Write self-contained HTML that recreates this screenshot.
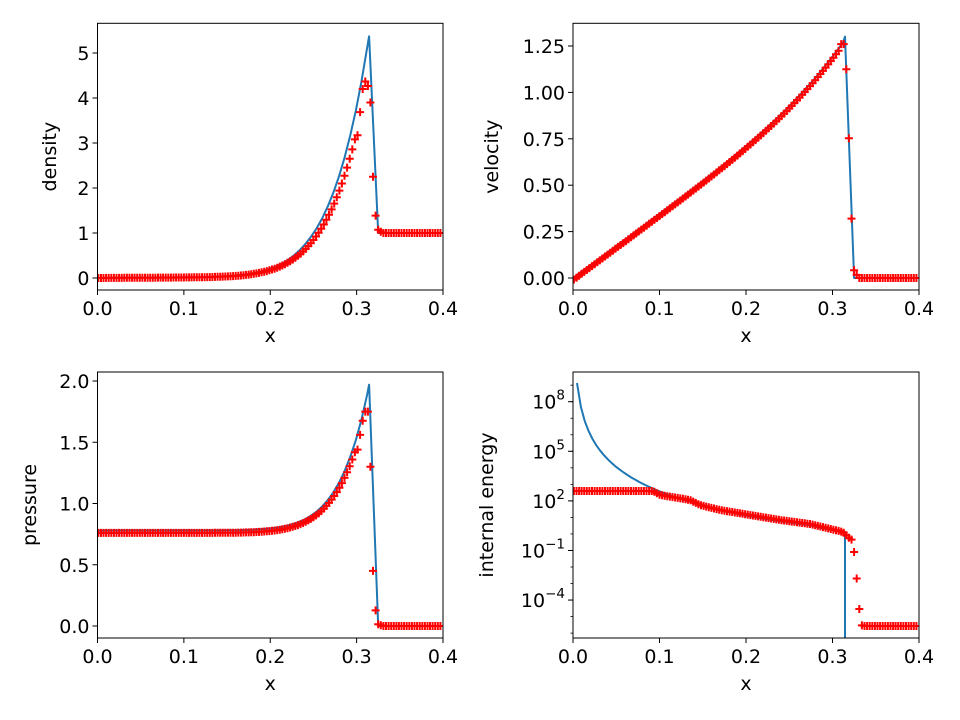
<!DOCTYPE html><html><head><meta charset="utf-8"><style>body{margin:0;background:#fff}svg{display:block}text{font-family:"DejaVu Sans","Liberation Sans",sans-serif;fill:#000}</style></head><body>
<svg id="s" width="960" height="720" xmlns="http://www.w3.org/2000/svg"></svg>
<script>
const S=document.getElementById('s');let h='';const FS=19;
function interp(pts,x){if(x<=pts[0][0])return pts[0][1];for(let i=1;i<pts.length;i++){if(x<=pts[i][0]){const a=pts[i-1],b=pts[i];return a[1]+(b[1]-a[1])*(x-a[0])/(b[0]-a[0]);}}return pts[pts.length-1][1];}
function panel(L,R,T,B,fy,yt,ylab,labx,line,marks,log){
 const fx=x=>L+(x)/0.4*(R-L);
 h+=`<g><clipPath id="c${L}${T}"><rect x="${L}" y="${T}" width="${R-L}" height="${B-T}"/></clipPath>`;
 h+=`<polyline clip-path="url(#c${L}${T})" fill="none" stroke="#1f77b4" stroke-width="2" stroke-linejoin="round" points="${line.map(p=>fx(p[0]).toFixed(1)+','+fy(p[1]).toFixed(1)).join(' ')}"/>`;
 let m='';for(const p of marks){const X=fx(p[0]),Y=fy(p[1]);if(Y<T-5||Y>B+5)continue;m+=`M${(X-4).toFixed(1)} ${Y.toFixed(1)}h8M${X.toFixed(1)} ${(Y-4).toFixed(1)}v8`;}
 h+=`<path clip-path="url(#c${L}${T})" d="${m}" stroke="#f00" stroke-width="2" fill="none"/>`;
 h+=`<rect x="${L}" y="${T}" width="${R-L}" height="${B-T}" fill="none" stroke="#000" stroke-width="1"/>`;
 for(let i=0;i<=4;i++){const X=fx(i*0.1);h+=`<line x1="${X}" y1="${B}" x2="${X}" y2="${B+5}" stroke="#000"/><text x="${X}" y="${B+25}" font-size="${FS}" text-anchor="middle">${(i/10).toFixed(1)}</text>`;}
 h+=`<text x="${(L+R)/2}" y="${B+52}" font-size="${FS}" text-anchor="middle">x</text>`;
 for(const t of yt){const Y=fy(t[0]);h+=`<line x1="${L-5}" y1="${Y}" x2="${L}" y2="${Y}" stroke="#000"/>`;
  if(log){h+=`<text x="${L-8}" y="${Y+7}" font-size="${FS}" text-anchor="end">10<tspan dy="-9" font-size="13.5">${t[1]}</tspan></text>`;}
  else h+=`<text x="${L-8}" y="${Y+7}" font-size="${FS}" text-anchor="end">${t[1]}</text>`;}
 if(log){for(let d=-6;d<=9;d++){const Y=fy(d);if(Y<T||Y>B)continue;h+=`<line x1="${L-2.5}" y1="${Y}" x2="${L}" y2="${Y}" stroke="#000" stroke-width="0.8"/>`;}}
 h+=`<text transform="translate(${labx},${(T+B)/2}) rotate(-90)" font-size="${FS}" text-anchor="middle">${ylab}</text></g>`;
}
const lx=[],mx=[];for(let x=0.0;x<=0.4001;x+=0.0065)lx.push(x);for(let x=0.001;x<=0.4;x+=0.003)mx.push(x);
const pk=0.3145,sh=0.325;
function rho(x){return 5.37*Math.pow(x/pk,7.5)+0.04*x/0.3;}
let dl=lx.filter(x=>x<pk).map(x=>[x,rho(x)]);dl.push([pk,5.37],[sh,1],[0.4,1]);
let dm=mx.map(x=>{let v;if(x<0.3)v=rho(x)*0.85;else v=interp([[0.3,3.0],[0.3035,3.6],[0.307,4.2],[0.3115,4.45],[0.316,3.9],[0.319,2.25],[0.323,1.1],[0.33,1.0]],x);if(x>=0.33)v=1;return [x,v];});
panel(97.5,443,23.3,290,v=>278-45*v,[[0,'0'],[1,'1'],[2,'2'],[3,'3'],[4,'4'],[5,'5']],'density',56,dl,dm,false);
function vel(x){return 3.45*x+0.2*Math.pow(x/pk,5);}
let vl=lx.filter(x=>x<pk).map(x=>[x,vel(x)]);vl.push([pk,1.3],[sh,0],[0.4,0]);
let vm=mx.map(x=>{let v;if(x<0.31)v=vel(x)-0.012;else v=interp([[0.31,1.26],[0.313,1.26],[0.317,1.08],[0.32,0.59],[0.324,0.05],[0.33,0]],x);if(x>=0.33)v=0;return[x,v];});
panel(573,919,23.3,290,v=>278-185.6*v,[[0,'0.00'],[0.25,'0.25'],[0.5,'0.50'],[0.75,'0.75'],[1,'1.00'],[1.25,'1.25']],'velocity',498,vl,vm,false);
function pr(x){return 0.78+1.19*Math.pow(x/pk,9.5);}
let pl=lx.filter(x=>x<pk).map(x=>[x,pr(x)]);pl.push([pk,1.97],[sh,0],[0.4,0]);
let pm=mx.map(x=>{let v;if(x<0.3)v=pr(x)-0.02-0.06*Math.pow(x/0.3,12);else v=interp([[0.3,1.4],[0.305,1.6],[0.309,1.75],[0.313,1.75],[0.316,1.3],[0.319,0.45],[0.323,0.02],[0.33,0]],x);if(x>=0.33)v=0;return[x,v];});
panel(97.5,443,372,638,v=>626-122.5*v,[[0,'0.0'],[0.5,'0.5'],[1,'1.0'],[1.5,'1.5'],[2,'2.0']],'pressure',36,pl,pm,false);
const ey=y=>8-(y-401.7)/16.53, ex=p=>(p-573)/865;
const mk=[[0,491],[653,491],[660,495],[690,500],[700,505],[720,510],[750,515],[780,520],[810,524],[843,532],[848,537],[852,540],[855,557],[859,607],[862,626],[919,626]].map(p=>[ex(p[0]),ey(p[1])]);
mk[0][0]=0;
function em(x){return interp(mk,x);}
let el=[];for(let x=0.0046;x<pk;x+=0.0045){el.push([x,Math.max(9.13-4.9*Math.log10(x/0.0046),em(x)-0.08)]);}
el.push([pk,ey(532)],[pk,-8]);
let emk=mx.map(x=>[x,em(x)]);
panel(573,919,372,638,v=>401.7-16.53*(v-8),[[-4,'−4'],[-1,'−1'],[2,'2'],[5,'5'],[8,'8']],'internal energy',493,el,emk,true);
S.innerHTML=h;
</script></body></html>
